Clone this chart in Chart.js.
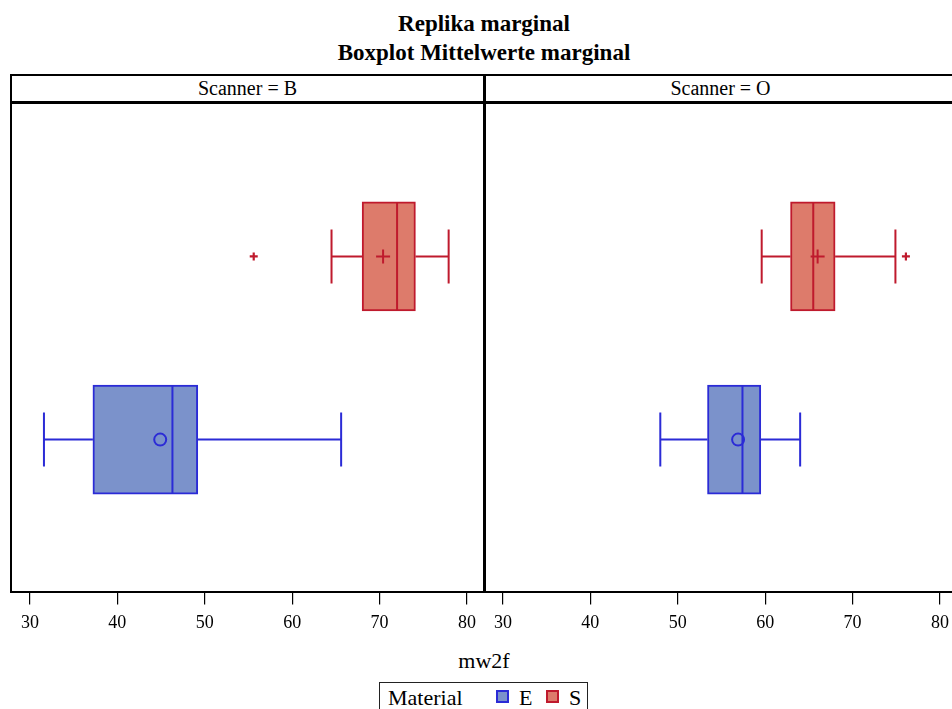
<!DOCTYPE html>
<html>
<head>
<meta charset="utf-8">
<script src="https://cdn.jsdelivr.net/npm/chart.js@4.4.1/dist/chart.umd.min.js"></script>
<style>
  html, body { margin: 0; padding: 0; background: #fff; }
  body { width: 952px; height: 709px; overflow: hidden; position: relative; font-family: 'Liberation Serif', serif; color: #000; }
  .abs { position: absolute; }
  .title { left: 0; width: 968px; text-align: center; font-weight: bold; font-size: 23px; line-height: 23px; white-space: nowrap; }
  .head { top: 76px; height: 25px; line-height: 25px; width: 473px; text-align: center; font-size: 20px; white-space: nowrap; }
  .line { background: #000; pointer-events: none; z-index: 2; }
  canvas { position: absolute; }
  #legend { left: 379px; top: 682px; width: 209px; height: 40px; border: 1.5px solid #222; box-sizing: border-box; font-size: 22px; }
  #legend span { position: absolute; top: 4px; line-height: 22px; white-space: nowrap; }
  #legend i { position: absolute; top: 7px; width: 9px; height: 9px; border: 2px solid; }
</style>
</head>
<body>
<div class="abs title" style="top:12px">Replika marginal</div>
<div class="abs title" style="top:41px">Boxplot Mittelwerte marginal</div>

<!-- Rahmen der Panels -->
<div class="abs line" style="left:10px; top:74px; width:980px; height:2px"></div>
<div class="abs line" style="left:10px; top:101px; width:980px; height:3px"></div>
<div class="abs line" style="left:10px; top:591px; width:980px; height:2px"></div>
<div class="abs line" style="left:10px; top:74px; width:2px; height:519px"></div>
<div class="abs line" style="left:483px; top:74px; width:2.5px; height:519px"></div>

<div class="abs head" style="left:11px" id="headB"></div>
<div class="abs head" style="left:484px" id="headO"></div>

<canvas id="chartB" width="473" height="540" style="left:11px; top:102px"></canvas>
<canvas id="chartO" width="473" height="540" style="left:484px; top:102px"></canvas>

<div class="abs" style="left:0; width:968px; top:650px; text-align:center; font-size:22px; line-height:22px">mw2f</div>

<div class="abs" id="legend">
  <span style="left:8px">Material</span>
  <i style="left:116px; border-color:#2b2bd6; background:#7b92cb"></i>
  <span style="left:139px">E</span>
  <i style="left:166px; border-color:#bf1a2d; background:#dd7b6b"></i>
  <span style="left:189px">S</span>
</div>

<script>
'use strict'
// Kategorien
const panels = ['B', 'O'];
const materials = ['E', 'S'];
// Achse
const xTicks = [30, 40, 50, 60, 70, 80];

// Scanner = B  (Index 0 = E, 1 = S)
const bLow = [31.6, 64.5];
const bQ1 = [37.2, 68.0];
const bMedian = [46.3, 72.0];
const bQ3 = [49.2, 74.1];
const bHigh = [65.6, 77.9];
const bMean = [44.9, 70.4];
const bOutliers = [[], [55.6]];

// Scanner = O
const oLow = [48.0, 59.6];
const oQ1 = [53.4, 62.9];
const oMedian = [57.4, 65.5];
const oQ3 = [59.5, 68.0];
const oHigh = [64.0, 74.9];
const oMean = [56.9, 66.0];
const oOutliers = [[], [76.1]];

//==================================================================================================

const lineColors = ['#2b2bd6', '#bf1a2d'];
const fillColors = ['#7b92cb', '#dd7b6b'];
// mittelwert symbol je material
const meanStyles = ['circle', 'cross'];
const meanRadius = [6, 7];

Chart.defaults.font.family = "'Liberation Serif', serif";
Chart.defaults.color = '#000';

document.querySelector('#headB').textContent = 'Scanner = ' + panels[0];
document.querySelector('#headO').textContent = 'Scanner = ' + panels[1];

//whisker, caps und median direkt nach den boxen zeichnen
function whiskerPlugin(low, median, q1, q3, high){
    return {
        id: 'whiskers',
        afterDatasetDraw(chart, args){
            if(args.index !== 0)
                return;
            const ctx = chart.ctx;
            const x = chart.scales.x;
            const y = chart.scales.y;
            materials.forEach((m, i) => {
                const cy = y.getPixelForValue(i);
                const xl = x.getPixelForValue(low[i]);
                const x1 = x.getPixelForValue(q1[i]);
                const x3 = x.getPixelForValue(q3[i]);
                const xh = x.getPixelForValue(high[i]);
                const xm = x.getPixelForValue(median[i]);
                ctx.save();
                ctx.strokeStyle = lineColors[i];
                ctx.lineWidth = 2;
                ctx.beginPath();
                ctx.moveTo(xl, cy); ctx.lineTo(x1, cy);
                ctx.moveTo(x3, cy); ctx.lineTo(xh, cy);
                ctx.moveTo(xl, cy - 27); ctx.lineTo(xl, cy + 27);
                ctx.moveTo(xh, cy - 27); ctx.lineTo(xh, cy + 27);
                ctx.moveTo(xm, cy - 54); ctx.lineTo(xm, cy + 54);
                ctx.stroke();
                ctx.restore();
            });
        }
    };
}

function buildChart(id, low, q1, median, q3, high, mean, outliers){
    new Chart(document.getElementById(id), {
        type: 'bar',
        data: {
            datasets: [
                {
                    type: 'bar',
                    order: 3,
                    indexAxis: 'y',
                    data: materials.map((m, i) => ({ x: [q1[i], q3[i]], y: i })),
                    backgroundColor: fillColors,
                    borderColor: lineColors,
                    borderWidth: 2,
                    borderSkipped: false,
                    barThickness: 109
                },
                {
                    type: 'scatter',
                    order: 1,
                    data: materials.map((m, i) => ({ x: mean[i], y: i })),
                    pointStyle: (c) => meanStyles[c.dataIndex],
                    pointRadius: (c) => meanRadius[c.dataIndex],
                    pointBorderWidth: 2,
                    pointBorderColor: (c) => lineColors[c.dataIndex],
                    pointBackgroundColor: 'rgba(0,0,0,0)'
                },
                {
                    type: 'scatter',
                    order: 1,
                    data: outliers.flatMap((list, i) => list.map(v => ({ x: v, y: i }))),
                    pointStyle: 'cross',
                    pointRadius: 4,
                    pointBorderWidth: 2.2,
                    pointBorderColor: (c) => lineColors[c.raw ? c.raw.y : 1]
                }
            ]
        },
        options: {
            indexAxis: 'y',
            responsive: false,
            animation: false,
            events: [],
            layout: { padding: 0, autoPadding: false },
            plugins: { legend: { display: false }, tooltip: { enabled: false } },
            scales: {
                x: {
                    type: 'linear',
                    min: 27.83,
                    max: 81.75,
                    offset: false,
                    afterBuildTicks: (scale) => { scale.ticks = xTicks.map(v => ({ value: v })); },
                    grid: { drawOnChartArea: false, drawTicks: true, tickLength: 12, color: '#000', lineWidth: 1.2 },
                    border: { display: false },
                    ticks: { font: { size: 18 }, color: '#000', padding: 8, autoSkip: false, maxRotation: 0 }
                },
                y: {
                    type: 'linear',
                    min: -0.834,
                    max: 1.843,
                    offset: false,
                    display: false
                }
            }
        },
        plugins: [whiskerPlugin(low, median, q1, q3, high)]
    });
}

buildChart('chartB', bLow, bQ1, bMedian, bQ3, bHigh, bMean, bOutliers);
buildChart('chartO', oLow, oQ1, oMedian, oQ3, oHigh, oMean, oOutliers);
</script>
</body>
</html>
